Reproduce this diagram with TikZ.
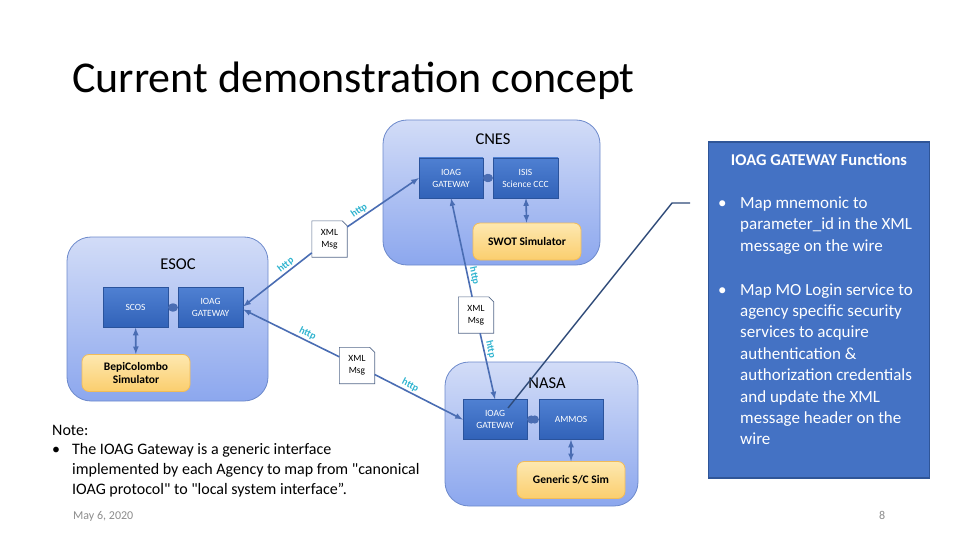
\documentclass[tikz,border=0pt]{standalone}
\usepackage{fontspec}
\setmainfont{Carlito}[Ligatures=TeXOff]
\usepackage{tikz}
\usetikzlibrary{arrows,shapes,backgrounds}

\definecolor{agencytop}{HTML}{D2DCF7}
\definecolor{agencybot}{HTML}{8CA7EE}
\definecolor{agencyrim}{HTML}{6C89CB}
\definecolor{unittop}{HTML}{4F80D2}
\definecolor{unitbot}{HTML}{3162B8}
\definecolor{simtop}{HTML}{FDE8B0}
\definecolor{simbot}{HTML}{FBCE6E}
\definecolor{simrim}{HTML}{F2BC58}
\definecolor{panelblue}{HTML}{4472C4}
\definecolor{panelrim}{HTML}{2F5597}
\definecolor{linkblue}{HTML}{4A6DB3}
\definecolor{calloutblue}{HTML}{2E4A78}
\definecolor{httpcyan}{HTML}{2EB3CF}
\definecolor{docrim}{HTML}{56698A}
\definecolor{footgray}{HTML}{8C8C8C}

\begin{document}
\begin{tikzpicture}[x=1pt, y=-1pt,
    agency/.style={draw=agencyrim, line width=0.8pt, rounded corners=24pt,
      top color=agencytop, bottom color=agencybot},
    agencylbl/.style={inner sep=0pt, font=\fontsize{16.5}{18}\selectfont},
    unitbox/.style={draw=unitbot!85!black, line width=0.4pt, top color=unittop,
      bottom color=unitbot, text=white, minimum width=64pt, minimum height=40pt,
      align=center, inner sep=1pt, font=\fontsize{9.5}{12}\selectfont},
    simbox/.style={draw=simrim, line width=0.8pt, rounded corners=7pt, top color=simtop,
      bottom color=simbot, minimum width=108pt, minimum height=37pt,
      align=center, inner sep=1pt, font=\bfseries\fontsize{11.5}{13.5}\selectfont},
    xmlmsg/.style={minimum width=35pt, minimum height=36pt, align=center,
      inner sep=0pt, font=\fontsize{9.5}{12}\selectfont},
    link/.style={draw=linkblue, line width=1.6pt, -latex},
    duallink/.style={draw=linkblue, line width=1.6pt, latex-latex},
    dotlink/.style={draw=linkblue, line width=1.6pt, *-*},
    httplbl/.style={sloped, above, inner sep=1.5pt, text=httpcyan,
      font=\bfseries\fontsize{10}{11}\selectfont},
    paneltext/.style={anchor=base west, inner sep=0pt, align=left, text=white,
      font=\fontsize{17}{21.4}\selectfont},
    notetext/.style={anchor=base west, inner sep=0pt, align=left,
      font=\fontsize{16}{20}\selectfont},
    foot/.style={anchor=base west, inner sep=0pt, text=footgray,
      font=\fontsize{12}{14}\selectfont}]
  \useasboundingbox (0,0) rectangle (960,540);

  \node [anchor=base west, inner sep=0pt, font=\fontsize{44}{50}\selectfont]
    (title) at (72,93) {Current demonstration concept};

  % agencies
  \draw [agency] (383,120) rectangle (600,265);
  \node [agencylbl] (cneslbl) at (493,139) {CNES};
  \draw [agency] (67,237) rectangle (268,401);
  \node [agencylbl] (esoclbl) at (178,264) {ESOC};
  \draw [agency] (445,362) rectangle (638,506);
  \node [agencylbl] (nasalbl) at (547,383) {NASA};

  \node [unitbox] (cnesgw) at (451,178) {IOAG\\GATEWAY};
  \node [unitbox, minimum width=65pt] (isis) at (525.5,178) {ISIS\\Science CCC};
  \node [simbox] (swot) at (527,241.5) {SWOT Simulator};

  \node [unitbox, minimum width=65pt] (scos) at (135.5,307.5) {SCOS};
  \node [unitbox, minimum width=65pt] (esocgw) at (210.5,307.5) {IOAG\\GATEWAY};
  \node [simbox] (bepi) at (136,373) {BepiColombo\\Simulator};

  \node [unitbox] (nasagw) at (495,419.5) {IOAG\\GATEWAY};
  \node [unitbox] (ammos) at (571,419.5) {AMMOS};
  \node [simbox] (gensim) at (571,480) {Generic S/C Sim};

  \draw [dotlink] (cnesgw) -- (isis);
  \draw [duallink] (isis) -- (swot);
  \draw [dotlink] (scos) -- (esocgw);
  \draw [duallink] (scos) -- (bepi);
  \draw [dotlink] (nasagw) -- (ammos);
  \draw [duallink] (ammos) -- (gensim);

  % messages on the wire
  \node [xmlmsg] (xmlA) at (329.5,239) {XML\\Msg};
  \node [xmlmsg] (xmlB) at (357,365.5) {XML\\Msg};
  \node [xmlmsg] (xmlC) at (476,315) {XML\\Msg};
  \begin{scope}[on background layer]
    \foreach \m in {xmlA,xmlB,xmlC}
      \draw [draw=docrim, line width=0.6pt, fill=white] (\m.south west) -- (\m.south east)
        -- ([yshift=-5pt]\m.north east) -- ([xshift=-5pt]\m.north east)
        -- (\m.north west) -- cycle;
  \end{scope}

  \draw [link] (xmlA) -- ([yshift=1pt]esocgw.east) node [httplbl, pos=0.32] {http};
  \draw [link] (xmlA) -- (cnesgw.west) node [httplbl, pos=0.22] {http};
  \draw [link] (xmlB) -- ([yshift=-2pt]esocgw.east) node [httplbl, pos=0.36] {http};
  \draw [link] (xmlB) -- (nasagw.west) node [httplbl, pos=0.37] {http};
  \draw [link] (xmlC) -- (cnesgw.south) node [httplbl, pos=0.2] {http};
  \draw [link] (xmlC) -- (nasagw.north) node [httplbl, pos=0.27] {http};

  % functions panel
  \node [draw=panelrim, line width=1.5pt, fill=panelblue, minimum width=221pt,
    minimum height=336pt] (fnbox) at (819,310) {};
  \node [text=white, inner sep=0pt, font=\bfseries\fontsize{16.5}{18}\selectfont]
    (fntitle) at (819,160) {IOAG GATEWAY Functions};
  % multi-line texts sit on the baseline of their last line
  \node [paneltext] (fndotA) at (718,208.5) {\textbullet};
  \node [paneltext] (fnitemA) at (740,251.3)
    {Map mnemonic to\\parameter\_id in the XML\\message on the wire};
  \node [paneltext] (fndotB) at (718,295) {\textbullet};
  \node [paneltext] (fnitemB) at (740,444.8)
    {Map MO Login service to\\agency specific security\\services to acquire\\authentication \&\\authorization credentials\\and update the XML\\message header on the\\wire};

  \coordinate (calltail) at (690,203);
  \coordinate (callknee) at (672,203);
  \coordinate (calltip) at (508,408);
  \draw [draw=calloutblue, line width=1.4pt] (calltail) -- (callknee) -- (calltip);

  % note
  \node [notetext] (notehead) at (52,435) {Note:};
  \node [notetext] (notedot) at (52,454) {\textbullet};
  \node [notetext] (notebody) at (72,494)
    {The IOAG Gateway is a generic interface\\implemented by each Agency to map from "canonical\\IOAG protocol" to "local system interface”.};

  \node [foot] (date) at (73,519) {May 6, 2020};
  \node [foot] (pagenum) at (879,519) {8};
\end{tikzpicture}
\end{document}
